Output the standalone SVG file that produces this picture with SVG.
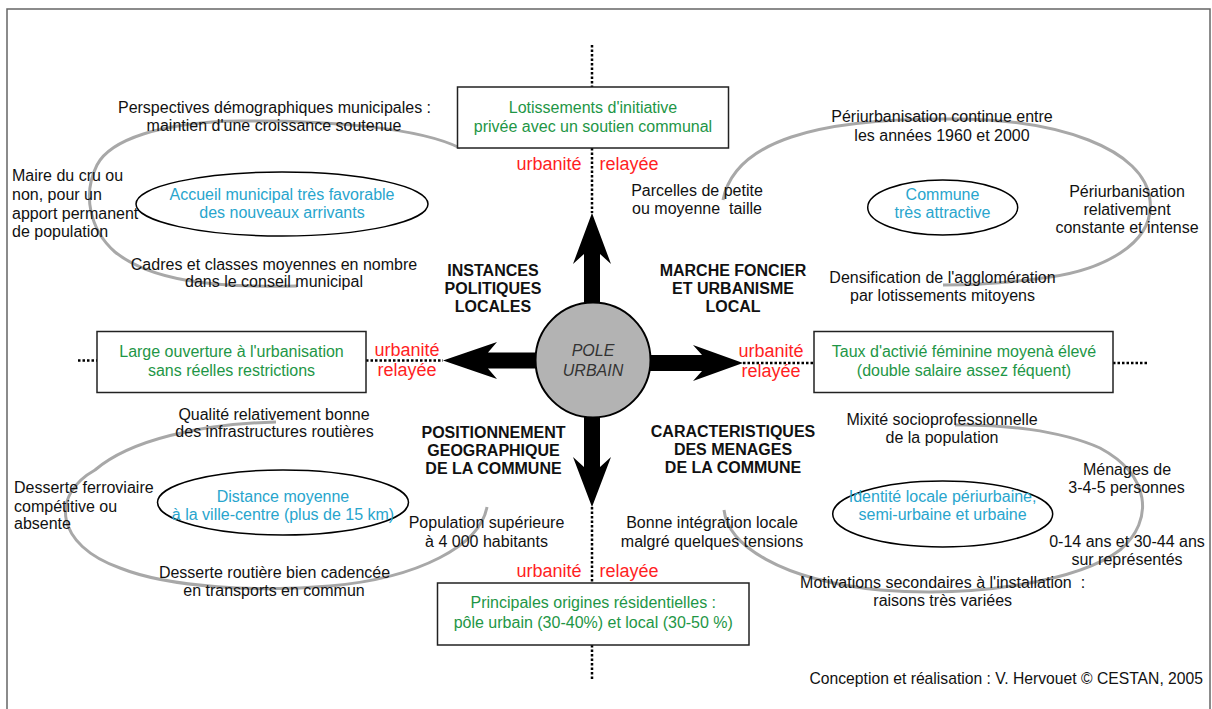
<svg xmlns="http://www.w3.org/2000/svg" width="1212" height="709" viewBox="0 0 1212 709">
<style>
text{font-family:"Liberation Sans",Arial,sans-serif;font-size:16px;fill:#111;text-anchor:middle}
.l{text-anchor:start}
.b{font-weight:bold}
.g{fill:#1e9646}
.t{fill:#28a5cd}
.r{fill:#ff1f1f;font-size:18px}
.box{fill:#fff;stroke:#222;stroke-width:1.5}
.ell{fill:none;stroke:#000;stroke-width:1.5}
.arc{fill:none;stroke:#a8a8a8;stroke-width:3}
.dot{fill:none;stroke:#000;stroke-width:2.5;stroke-dasharray:2.5 2}
.arw{fill:#000}
</style>
<rect x="7" y="9" width="1203" height="712" fill="#fff" stroke="#666" stroke-width="1.5"/>

<g id="connectors">
<path class="dot" d="M592 45V87M592 148V213M592 507V583M592 645V680"/>
<path class="dot" d="M78 360.5H97M366 360.5H443M743 363H814M1113 363H1148"/>
<polygon class="arw" points="592,213 611,264 600,254 600,310 584,310 584,254 573,264"/>
<polygon class="arw" points="592,507 611,457 600,467 600,410 584,410 584,467 573,457"/>
<polygon class="arw" points="443,360.5 497,342 488,352.5 540,352.5 540,368.5 488,368.5 497,379"/>
<polygon class="arw" points="743,363 693,345 702,355 645,355 645,371 702,371 693,381"/>
</g>

<g id="arcs">
<path class="arc" d="M460 148C420 128 330 120 240 121C160 122 110 140 97 165C82 195 90 230 115 252C150 280 210 288 297 286"/>
<path class="arc" d="M723 200C735 140 820 119 943 119C1060 117 1145 150 1150 200C1155 245 1100 270 1050 277C1010 283 970 285 943 285"/>
<path class="arc" d="M276 422C200 424 130 440 95 470C50 495 55 545 120 568C170 588 260 592 330 586C420 578 480 545 487 507"/>
<path class="arc" d="M724 510C728 545 780 580 880 590C980 598 1080 580 1120 550C1155 520 1150 475 1100 448C1060 430 1000 424 955 425"/>
</g>

<g id="pole">
<circle cx="593" cy="360" r="57.5" fill="#b3b3b3" stroke="#000" stroke-width="2"/>
<text x="593" y="356" font-style="italic" style="fill:#333">POLE</text>
<text x="593" y="376" font-style="italic" style="fill:#333">URBAIN</text>
</g>

<g id="box-top">
<rect class="box" x="457.5" y="87" width="271" height="61"/>
<text class="g" x="593" y="113">Lotissements d'initiative</text>
<text class="g" x="593" y="132">privée avec un soutien communal</text>
<text class="r" x="549" y="170">urbanité</text>
<text class="r" x="629" y="170">relayée</text>
</g>

<g id="box-left">
<rect class="box" x="97" y="331.5" width="269" height="61"/>
<text class="g" x="231.5" y="357">Large ouverture à l'urbanisation</text>
<text class="g" x="231.5" y="376">sans réelles restrictions</text>
<text class="r" x="407" y="355.5">urbanité</text>
<text class="r" x="407" y="376">relayée</text>
</g>

<g id="box-right">
<rect class="box" x="814" y="331.5" width="299" height="61"/>
<text class="g" x="964" y="357">Taux d'activié féminine moyenà élevé</text>
<text class="g" x="964" y="376">(double salaire assez féquent)</text>
<text class="r" x="771" y="356.5">urbanité</text>
<text class="r" x="771" y="377">relayée</text>
</g>

<g id="box-bottom">
<rect class="box" x="437.5" y="583" width="311.5" height="62"/>
<text class="g" x="593.3" y="608.3">Principales origines résidentielles :</text>
<text class="g" x="593.3" y="628.3">pôle urbain (30-40%) et local (30-50 %)</text>
<text class="r" x="549" y="576.7">urbanité</text>
<text class="r" x="629" y="576.7">relayée</text>
</g>

<g id="instances">
<text class="b" x="493" y="276">INSTANCES</text>
<text class="b" x="493" y="294">POLITIQUES</text>
<text class="b" x="493" y="311.7">LOCALES</text>
<ellipse class="ell" cx="282" cy="204" rx="146" ry="32"/>
<text class="t" x="282" y="200">Accueil municipal très favorable</text>
<text class="t" x="282" y="218">des nouveaux arrivants</text>
<text x="274.5" y="113">Perspectives démographiques municipales :</text>
<text x="274" y="131">maintien d'une croissance soutenue</text>
<text class="l" x="12" y="181">Maire du cru ou</text>
<text class="l" x="12" y="200">non, pour un</text>
<text class="l" x="12" y="218.5">apport permanent</text>
<text class="l" x="12" y="237">de population</text>
<text x="274" y="270">Cadres et classes moyennes en nombre</text>
<text x="274" y="287">dans le conseil municipal</text>
</g>

<g id="marche">
<text class="b" x="733" y="276">MARCHE FONCIER</text>
<text class="b" x="733" y="294">ET URBANISME</text>
<text class="b" x="733" y="311.7">LOCAL</text>
<ellipse class="ell" cx="942.7" cy="207.5" rx="75" ry="27.5"/>
<text class="t" x="942.5" y="200">Commune</text>
<text class="t" x="942.5" y="218">très attractive</text>
<text x="942" y="122">Périurbanisation continue entre</text>
<text x="942" y="141">les années 1960 et 2000</text>
<text x="697" y="196">Parcelles de petite</text>
<text x="697" y="214">ou moyenne&#160; taille</text>
<text x="1127" y="197">Périurbanisation</text>
<text x="1127" y="215">relativement</text>
<text x="1127" y="233">constante et intense</text>
<text x="942.5" y="283.3">Densification de l'agglomération</text>
<text x="942.5" y="300.7">par lotissements mitoyens</text>
</g>

<g id="positionnement">
<text class="b" x="493.5" y="438.3">POSITIONNEMENT</text>
<text class="b" x="493.5" y="456">GEOGRAPHIQUE</text>
<text class="b" x="493.5" y="474">DE LA COMMUNE</text>
<ellipse class="ell" cx="283" cy="502.5" rx="125.5" ry="32.5"/>
<text class="t" x="283" y="501.7">Distance moyenne</text>
<text class="t" x="283" y="520">à la ville-centre (plus de 15 km)</text>
<text x="274" y="420">Qualité relativement bonne</text>
<text x="274.5" y="437.3">des infrastructures routières</text>
<text class="l" x="14" y="493.3">Desserte ferroviaire</text>
<text class="l" x="14" y="511.7">compétitive ou</text>
<text class="l" x="14" y="529.3">absente</text>
<text x="486.5" y="528.3">Population supérieure</text>
<text x="486.5" y="546.7">à 4 000 habitants</text>
<text x="274.5" y="578.3">Desserte routière bien cadencée</text>
<text x="274" y="596">en transports en commun</text>
</g>

<g id="caracteristiques">
<text class="b" x="733" y="437.3">CARACTERISTIQUES</text>
<text class="b" x="733" y="455">DES MENAGES</text>
<text class="b" x="733" y="473.3">DE LA COMMUNE</text>
<ellipse class="ell" cx="942.7" cy="514" rx="110" ry="33"/>
<text class="t" x="942.6" y="501.7">Identité locale périurbaine,</text>
<text class="t" x="942.6" y="520">semi-urbaine et urbaine</text>
<text x="942" y="425">Mixité socioprofessionnelle</text>
<text x="942" y="443.3">de la population</text>
<text x="1127" y="475">Ménages de</text>
<text x="1126.5" y="492.7">3-4-5 personnes</text>
<text x="712" y="528.3">Bonne intégration locale</text>
<text x="712" y="546.7">malgré quelques tensions</text>
<text x="1127" y="546.7">0-14 ans et 30-44 ans</text>
<text x="1127" y="565">sur représentés</text>
<text x="942.6" y="588.3">Motivations secondaires à l'installation&#160; :</text>
<text x="942.7" y="606">raisons très variées</text>
</g>

<text x="1203" y="684" style="text-anchor:end;font-size:15.7px">Conception et réalisation : V. Hervouet © CESTAN, 2005</text>
</svg>
